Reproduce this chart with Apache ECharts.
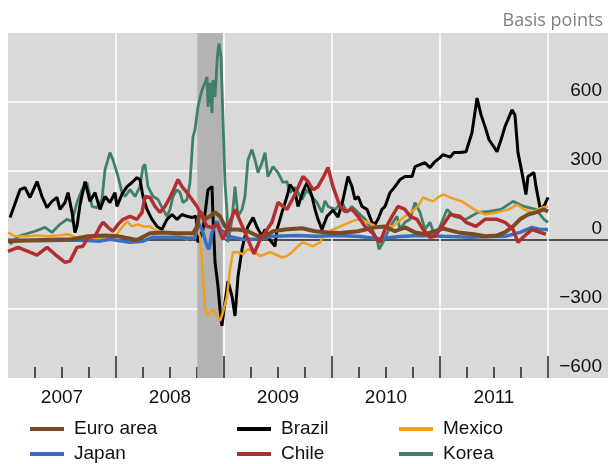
<!DOCTYPE html>
<html><head><meta charset="utf-8">
<script src="https://cdn.jsdelivr.net/npm/echarts@6/dist/echarts.min.js"></script>
<style>html,body{margin:0;padding:0;background:#fff}#c{width:609px;height:464px}</style>
</head><body><div id="c"></div>
<script>
// Decimal-year / basis-point pairs
const brazil = [[2007.019,98],[2007.111,219],[2007.157,228],[2007.204,185],[2007.269,254],[2007.315,189],[2007.361,141],[2007.407,168],[2007.454,185],[2007.481,133],[2007.528,163],[2007.556,206],[2007.593,120],[2007.620,33],[2007.639,60],[2007.667,154],[2007.713,254],[2007.759,168],[2007.806,206],[2007.852,133],[2007.898,189],[2007.944,163],[2007.991,206],[2008.009,146],[2008.056,200],[2008.102,232],[2008.148,250],[2008.194,271],[2008.222,263],[2008.250,189],[2008.287,133],[2008.333,90],[2008.380,59],[2008.426,46],[2008.472,90],[2008.519,111],[2008.565,90],[2008.611,111],[2008.657,103],[2008.704,98],[2008.741,103],[2008.759,-10],[2008.806,46],[2008.852,219],[2008.889,232],[2008.898,103],[2008.917,-97],[2008.944,-200],[2008.963,-300],[2008.981,-373],[2009.009,-270],[2009.037,-179],[2009.074,-244],[2009.102,-330],[2009.130,-157],[2009.167,-40],[2009.194,16],[2009.222,59],[2009.269,98],[2009.306,55],[2009.352,16],[2009.380,46],[2009.426,0],[2009.472,-27],[2009.491,46],[2009.537,120],[2009.583,189],[2009.611,241],[2009.657,211],[2009.685,146],[2009.731,211],[2009.769,250],[2009.815,189],[2009.843,133],[2009.870,90],[2009.907,46],[2009.954,103],[2010.009,130],[2010.056,100],[2010.102,176],[2010.148,276],[2010.185,232],[2010.213,176],[2010.241,189],[2010.278,146],[2010.324,133],[2010.370,77],[2010.398,68],[2010.426,90],[2010.463,133],[2010.491,146],[2010.537,206],[2010.583,232],[2010.630,263],[2010.676,276],[2010.741,276],[2010.769,319],[2010.815,328],[2010.861,336],[2010.907,315],[2010.954,341],[2011.000,358],[2011.028,371],[2011.093,360],[2011.130,380],[2011.185,380],[2011.241,384],[2011.296,466],[2011.343,617],[2011.380,544],[2011.417,493],[2011.454,436],[2011.528,384],[2011.565,436],[2011.602,493],[2011.667,566],[2011.694,544],[2011.722,380],[2011.759,293],[2011.796,198],[2011.815,276],[2011.870,293],[2011.889,232],[2011.926,141],[2011.963,146],[2012.000,185]];
const korea = [[2007.019,-19],[2007.093,16],[2007.157,25],[2007.250,38],[2007.343,55],[2007.407,33],[2007.481,68],[2007.546,90],[2007.593,81],[2007.639,163],[2007.685,219],[2007.731,250],[2007.778,146],[2007.824,141],[2007.870,176],[2007.898,306],[2007.944,380],[2007.972,349],[2008.019,276],[2008.056,206],[2008.083,189],[2008.130,219],[2008.176,189],[2008.222,232],[2008.250,319],[2008.269,328],[2008.296,232],[2008.343,189],[2008.389,176],[2008.435,133],[2008.472,103],[2008.500,133],[2008.528,189],[2008.565,219],[2008.593,206],[2008.620,163],[2008.657,176],[2008.685,250],[2008.713,449],[2008.731,479],[2008.759,579],[2008.796,652],[2008.824,683],[2008.843,709],[2008.852,579],[2008.870,683],[2008.889,552],[2008.898,696],[2008.917,622],[2008.935,769],[2008.944,826],[2008.954,855],[2008.972,796],[2008.991,520],[2009.009,250],[2009.028,120],[2009.037,-10],[2009.074,90],[2009.102,232],[2009.130,103],[2009.167,133],[2009.194,189],[2009.222,349],[2009.259,393],[2009.287,349],[2009.315,293],[2009.352,336],[2009.380,380],[2009.407,276],[2009.454,319],[2009.500,293],[2009.546,250],[2009.583,254],[2009.611,206],[2009.657,228],[2009.722,176],[2009.769,219],[2009.815,189],[2009.861,163],[2009.907,120],[2009.935,170],[2009.963,146],[2010.028,133],[2010.093,163],[2010.139,120],[2010.185,146],[2010.241,120],[2010.306,90],[2010.370,46],[2010.417,3],[2010.435,-40],[2010.472,-10],[2010.519,38],[2010.565,77],[2010.602,103],[2010.630,46],[2010.676,77],[2010.722,90],[2010.769,163],[2010.815,120],[2010.861,46],[2010.907,77],[2010.954,16],[2011.000,59],[2011.065,133],[2011.130,103],[2011.241,90],[2011.352,120],[2011.454,124],[2011.565,133],[2011.676,168],[2011.778,146],[2011.889,133],[2011.963,90],[2012.000,77]];
const chile = [[2007.000,-49],[2007.093,-32],[2007.185,-49],[2007.269,-66],[2007.361,-32],[2007.435,-62],[2007.528,-97],[2007.574,-92],[2007.639,-32],[2007.694,-27],[2007.741,12],[2007.806,16],[2007.852,59],[2007.880,77],[2007.926,55],[2007.972,38],[2008.019,68],[2008.065,90],[2008.130,103],[2008.194,90],[2008.241,120],[2008.269,189],[2008.315,185],[2008.361,146],[2008.407,120],[2008.454,146],[2008.500,185],[2008.546,232],[2008.574,263],[2008.611,232],[2008.657,206],[2008.704,176],[2008.750,146],[2008.796,103],[2008.843,59],[2008.889,55],[2008.935,68],[2008.991,3],[2009.102,133],[2009.194,33],[2009.278,-60],[2009.333,0],[2009.444,77],[2009.500,163],[2009.583,133],[2009.657,198],[2009.731,276],[2009.778,254],[2009.824,219],[2009.870,232],[2009.917,271],[2009.963,315],[2010.009,232],[2010.074,146],[2010.120,124],[2010.185,133],[2010.241,103],[2010.306,59],[2010.370,33],[2010.417,3],[2010.444,-10],[2010.491,46],[2010.556,103],[2010.611,146],[2010.676,133],[2010.722,103],[2010.787,90],[2010.843,46],[2010.907,12],[2010.954,16],[2011.019,59],[2011.093,111],[2011.185,103],[2011.241,77],[2011.333,59],[2011.417,90],[2011.528,90],[2011.602,77],[2011.676,46],[2011.722,-10],[2011.778,16],[2011.852,46],[2011.926,33],[2011.981,25]];
const mexico = [[2007.000,33],[2007.065,16],[2007.157,16],[2007.278,20],[2007.370,16],[2007.463,20],[2007.556,25],[2007.620,12],[2007.713,3],[2007.898,7],[2007.991,16],[2008.056,55],[2008.102,81],[2008.148,59],[2008.204,68],[2008.250,59],[2008.315,59],[2008.380,38],[2008.435,33],[2008.528,25],[2008.611,16],[2008.657,3],[2008.704,16],[2008.750,46],[2008.778,16],[2008.806,-170],[2008.824,-300],[2008.852,-330],[2008.898,-300],[2008.935,-330],[2008.963,-352],[2008.991,-313],[2009.028,-244],[2009.056,-127],[2009.083,-53],[2009.130,-53],[2009.176,-62],[2009.222,-40],[2009.287,-53],[2009.333,-70],[2009.380,-62],[2009.426,-53],[2009.472,-62],[2009.537,-75],[2009.583,-70],[2009.630,-53],[2009.685,-27],[2009.731,-10],[2009.778,-19],[2009.824,-27],[2009.889,-10],[2009.935,30],[2009.981,40],[2010.056,55],[2010.120,68],[2010.185,81],[2010.241,90],[2010.306,81],[2010.370,68],[2010.426,55],[2010.491,59],[2010.556,59],[2010.611,77],[2010.676,103],[2010.741,124],[2010.796,146],[2010.843,185],[2010.889,176],[2010.935,168],[2010.981,185],[2011.028,198],[2011.093,185],[2011.204,168],[2011.315,133],[2011.417,111],[2011.528,120],[2011.639,133],[2011.713,154],[2011.778,133],[2011.852,120],[2011.944,141],[2012.000,146]];
const euroArea = [[2007.000,-5],[2007.296,0],[2007.593,3],[2007.741,16],[2007.898,20],[2008.019,16],[2008.065,12],[2008.194,0],[2008.315,29],[2008.435,33],[2008.565,29],[2008.713,29],[2008.750,59],[2008.778,124],[2008.824,90],[2008.870,103],[2008.917,120],[2008.963,103],[2009.009,59],[2009.037,46],[2009.130,46],[2009.222,38],[2009.315,16],[2009.380,16],[2009.454,38],[2009.565,46],[2009.722,51],[2009.843,38],[2009.963,33],[2010.074,30],[2010.241,38],[2010.398,55],[2010.491,59],[2010.583,38],[2010.676,55],[2010.769,33],[2010.861,25],[2010.954,38],[2011.028,50],[2011.167,33],[2011.315,25],[2011.417,16],[2011.528,20],[2011.602,33],[2011.676,59],[2011.741,90],[2011.815,111],[2011.889,120],[2011.963,133],[2012.000,124]];
const japan = [[2007.000,0],[2007.296,-3],[2007.667,0],[2007.852,-5],[2007.944,3],[2008.130,-10],[2008.250,-5],[2008.343,12],[2008.546,12],[2008.731,7],[2008.759,77],[2008.796,46],[2008.843,-27],[2008.861,-40],[2008.889,33],[2008.935,81],[2008.963,46],[2009.009,33],[2009.037,16],[2009.167,3],[2009.315,3],[2009.444,16],[2009.685,20],[2009.843,16],[2010.074,20],[2010.259,15],[2010.426,5],[2010.630,15],[2010.815,20],[2011.028,16],[2011.278,12],[2011.602,16],[2011.741,33],[2011.852,55],[2011.926,46],[2012.000,46]];
const recession = [2008.753, 2008.988];
const yTicks = [-600, -300, 0, 300, 600, 900];
const yearLabels = ['2007','2008','2009','2010','2011'];
const legendNames = ['Euro area', 'Brazil', 'Mexico', 'Japan', 'Chile', 'Korea'];

const FONT = '"Liberation Sans", Arial, sans-serif';
function mk(name, data, color, width) {
  return { name, type: 'line', data, xAxisIndex: 0, yAxisIndex: 0, showSymbol: false, symbol: 'none',
    z: 3, lineStyle: { color, width }, itemStyle: { color }, animation: false, silent: true };
}
const XMIN = 2007, XMAX = 2007 + 600 / 108;
const legendLefts = [30, 237, 399];
const legendTops = [419, 444];
const legends = legendNames.map((n, i) => ({
  data: [n], left: legendLefts[i % 3], top: legendTops[Math.floor(i / 3)], padding: 0,
  itemWidth: 34, itemHeight: 4, icon: 'rect', selectedMode: false,
  textStyle: { fontFamily: FONT, fontSize: 19, color: '#111', lineHeight: 20, padding: [0, 0, 0, 5] }
}));
const chart = echarts.init(document.getElementById('c'), null, { renderer: 'canvas' });
chart.setOption({
  animation: false,
  textStyle: { fontFamily: FONT },
  title: { text: 'Basis points', right: 1, top: 7,
    textStyle: { fontFamily: '"Open Sans", sans-serif', fontSize: 18, fontWeight: 'normal', color: '#7f7f7f' } },
  legend: legends,
  grid: [
    { left: 8, right: 1, top: 33, bottom: 86, show: true, backgroundColor: '#d9d9d9', borderWidth: 0 },
    { left: 116, right: 61, top: 33, bottom: 86 },
    { left: 8, right: 61, top: 33, bottom: 86 },
    { left: 35, right: 61, top: 33, bottom: 86 }
  ],
  xAxis: [
    { gridIndex: 0, type: 'value', min: XMIN, max: XMAX, interval: 1,
      axisLine: { show: false }, axisTick: { show: false }, axisLabel: { show: false },
      splitLine: { show: true, lineStyle: { color: ['rgba(0,0,0,0)', '#fff', '#fff', '#fff', '#fff', '#fff', 'rgba(0,0,0,0)'], width: 1.5 } } },
    { gridIndex: 1, type: 'value', min: 2008, max: 2012, interval: 1, position: 'bottom',
      axisLine: { show: false }, axisLabel: { show: false }, splitLine: { show: false },
      axisTick: { show: true, inside: true, length: 22, lineStyle: { color: '#222', width: 1.5 } } },
    { gridIndex: 2, type: 'value', min: 2007, max: 2012, interval: 0.5, position: 'bottom',
      axisLine: { show: false }, axisTick: { show: false }, splitLine: { show: false },
      axisLabel: { show: true, margin: 10, fontSize: 19, color: '#111', fontFamily: FONT,
        formatter: v => { const i = Math.round((v - 2007.5)); return Math.abs(v - 2007.5 - i) < 1e-6 && yearLabels[i] ? yearLabels[i] : ''; } } },
    { gridIndex: 3, type: 'value', min: 2007.25, max: 2012, interval: 0.25, position: 'bottom',
      axisLine: { show: false }, axisLabel: { show: false }, splitLine: { show: false },
      axisTick: { show: true, inside: true, length: 11, lineStyle: { color: '#222', width: 1.5 } } }
  ],
  yAxis: [
    { gridIndex: 0, type: 'value', min: yTicks[0], max: yTicks[yTicks.length - 1], interval: 300, position: 'right',
      axisLine: { show: false }, axisTick: { show: false },
      axisLabel: { inside: true, margin: 6, fontSize: 19, color: '#111', fontFamily: FONT, verticalAlign: 'bottom', padding: [0, 0, 2, 0],
        formatter: v => v === 900 ? '' : (v < 0 ? '\u2212' + Math.abs(v) : String(v)) },
      splitLine: { show: true, lineStyle: { color: ['rgba(0,0,0,0)', '#fff', '#222', '#fff', '#fff', 'rgba(0,0,0,0)'], width: 1.5 } } },
    { gridIndex: 1, type: 'value', min: 0, max: 1, show: false },
    { gridIndex: 2, type: 'value', min: 0, max: 1, show: false },
    { gridIndex: 3, type: 'value', min: 0, max: 1, show: false }
  ],
  series: [
    { name: 'band', type: 'line', data: [], xAxisIndex: 0, yAxisIndex: 0, z: 1, silent: true,
      markArea: { silent: true, itemStyle: { color: '#b3b3b3' }, data: [[{ xAxis: recession[0] }, { xAxis: recession[1] }]] } },
    mk('Korea', korea, '#3f8068', 2.8),
    mk('Brazil', brazil, '#000000', 3),
    mk('Mexico', mexico, '#eea020', 2.5),
    mk('Japan', japan, '#3a6fbd', 3.5),
    mk('Euro area', euroArea, '#7a4a22', 4),
    mk('Chile', chile, '#b22f2f', 3.5)
  ]
});
</script></body></html>
